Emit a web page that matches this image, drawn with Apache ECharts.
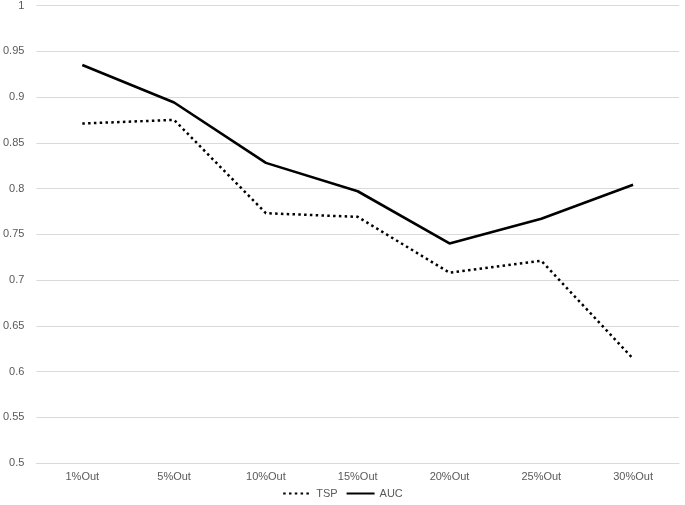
<!DOCTYPE html>
<html>
<head>
<meta charset="utf-8">
<script src="https://cdn.jsdelivr.net/npm/echarts@6/dist/echarts.min.js"></script>
<style>
html, body { margin: 0; padding: 0; background: #fff; }
#main { width: 685px; height: 505px; }
</style>
</head>
<body>
<div id="main"></div>
<script>
var categories = ['1%Out', '5%Out', '10%Out', '15%Out', '20%Out', '25%Out', '30%Out'];
var tspValues = [0.871, 0.875, 0.773, 0.769, 0.708, 0.721, 0.614];
var aucValues = [0.935, 0.894, 0.828, 0.797, 0.740, 0.767, 0.804];
var yTicks = [0.5, 0.55, 0.6, 0.65, 0.7, 0.75, 0.8, 0.85, 0.9, 0.95, 1];

var myChart = echarts.init(document.getElementById('main'));
var labelFont = { color: '#595959', fontSize: 11, fontFamily: '"Liberation Sans Narrow", "Liberation Sans", sans-serif' };

option = {
    animation: false,
    grid: { left: 31, right: 6, top: 4, bottom: 42, containLabel: false },
    legend: {
        bottom: 1,
        left: 'center',
        itemWidth: 28,
        itemHeight: 10,
        itemGap: 8,
        itemStyle: { color: 'transparent', borderWidth: 0, opacity: 0 },
        textStyle: labelFont,
        data: ['TSP', 'AUC']
    },
    xAxis: {
        type: 'category',
        data: categories,
        boundaryGap: true,
        axisLine: { lineStyle: { color: '#d9d9d9' } },
        axisTick: { show: false },
        axisLabel: Object.assign({ margin: 8 }, labelFont)
    },
    yAxis: {
        type: 'value',
        min: yTicks[0],
        max: yTicks[yTicks.length - 1],
        interval: 0.05,
        axisLine: { show: false },
        axisTick: { show: false },
        splitLine: { lineStyle: { color: '#d9d9d9' } },
        axisLabel: Object.assign({
            margin: 12,
            formatter: function (v) { return String(parseFloat(v.toFixed(2))); }
        }, labelFont)
    },
    series: [
        {
            name: 'TSP',
            type: 'line',
            data: tspValues,
            symbol: 'none',
            lineStyle: { color: '#000', width: 2.5, type: [2.5, 3.3], cap: 'butt' },
            itemStyle: { color: '#000' }
        },
        {
            name: 'AUC',
            type: 'line',
            data: aucValues,
            symbol: 'none',
            lineStyle: { color: '#000', width: 2.6 },
            itemStyle: { color: '#000' }
        }
    ]
};
myChart.setOption(option);
</script>
</body>
</html>
